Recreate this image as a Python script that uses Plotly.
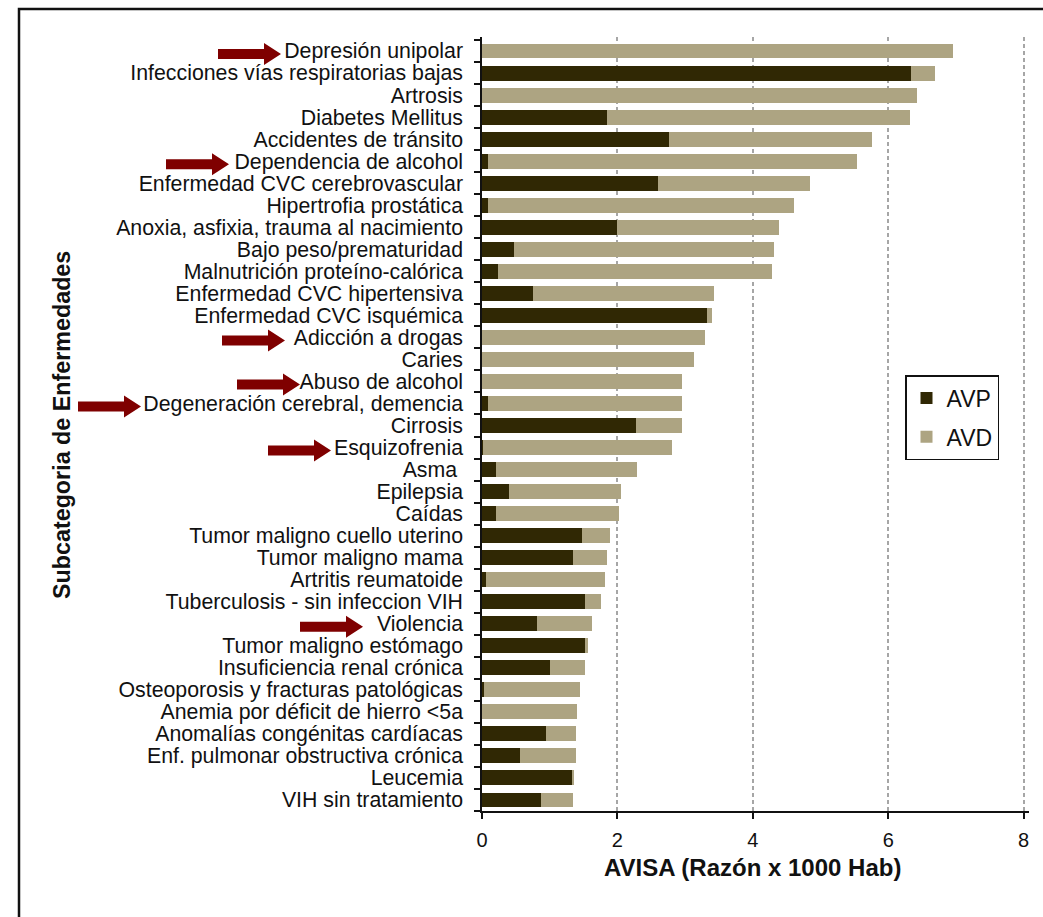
import plotly.graph_objects as go

# ---------------- data ----------------
categories = [
    "Depresión unipolar",
    "Infecciones vías respiratorias bajas",
    "Artrosis",
    "Diabetes Mellitus",
    "Accidentes de tránsito",
    "Dependencia de alcohol",
    "Enfermedad CVC cerebrovascular",
    "Hipertrofia prostática",
    "Anoxia, asfixia, trauma al nacimiento",
    "Bajo peso/prematuridad",
    "Malnutrición proteíno-calórica",
    "Enfermedad CVC hipertensiva",
    "Enfermedad CVC isquémica",
    "Adicción a drogas",
    "Caries",
    "Abuso de alcohol",
    "Degeneración cerebral, demencia",
    "Cirrosis",
    "Esquizofrenia",
    "Asma ",
    "Epilepsia",
    "Caídas",
    "Tumor maligno cuello uterino",
    "Tumor maligno mama",
    "Artritis reumatoide",
    "Tuberculosis - sin infeccion VIH",
    "Violencia",
    "Tumor maligno estómago",
    "Insuficiencia renal crónica",
    "Osteoporosis y fracturas patológicas",
    "Anemia por déficit de hierro <5a",
    "Anomalías congénitas cardíacas",
    "Enf. pulmonar obstructiva crónica",
    "Leucemia",
    "VIH sin tratamiento",
]

avp = [0.00, 6.33, 0.00, 1.85, 2.76, 0.09, 2.60, 0.09, 1.99, 0.47,
       0.24, 0.75, 3.32, 0.00, 0.00, 0.00, 0.09, 2.27, 0.01, 0.21,
       0.40, 0.20, 1.47, 1.34, 0.06, 1.52, 0.81, 1.52, 1.01, 0.03,
       0.00, 0.94, 0.56, 1.33, 0.87]

avd = [6.95, 0.36, 6.42, 4.47, 3.00, 5.45, 2.24, 4.52, 2.40, 3.84,
       4.05, 2.68, 0.07, 3.30, 3.13, 2.96, 2.87, 0.69, 2.80, 2.08,
       1.66, 1.82, 0.42, 0.50, 1.75, 0.24, 0.81, 0.05, 0.51, 1.42,
       1.40, 0.45, 0.83, 0.03, 0.47]

x_ticks = [0, 2, 4, 6, 8]

# categories marked with a red arrow in the original
highlighted = ["Depresión unipolar", "Dependencia de alcohol", "Adicción a drogas",
               "Abuso de alcohol", "Degeneración cerebral, demencia",
               "Esquizofrenia", "Violencia"]

x_title = "AVISA (Razón x 1000 Hab)"
y_title = "Subcategoria de Enfermedades"

# ---------------- style / layout ----------------
W, H = 1043, 917
ML, MR, MT, MB = 482, 14, 37, 106
PW, PH = W - ML - MR, H - MT - MB
FONT = "Liberation Sans, Arial, sans-serif"
C_AVP = "#302804"
C_AVD = "#ada482"
ARROW = "#7f0000"
INK = "#111111"

# arrow tip offsets (pixels left of the y axis)
arrow_tip = {
    "Depresión unipolar": -201,
    "Dependencia de alcohol": -253,
    "Adicción a drogas": -197,
    "Abuso de alcohol": -182,
    "Degeneración cerebral, demencia": -341,
    "Esquizofrenia": -151,
    "Violencia": -119,
}

fig = go.Figure()
fig.add_trace(go.Bar(
    y=categories, x=avp, name="AVP", orientation="h",
    marker=dict(color=C_AVP, line=dict(width=0)), legendgroup="a",
))
fig.add_trace(go.Bar(
    y=categories, x=avd, name="AVD", orientation="h",
    marker=dict(color=C_AVD, line=dict(width=0)), legendgroup="b",
))


def px2paper_x(p):
    return (p - ML) / PW


def px2paper_y(p):
    return 1 - (p - MT) / PH


shapes = []
for cat in highlighted:
    tx = arrow_tip[cat]
    L, hl, sh, hh, dy = 63, 17, 5, 11, -3
    path = (f"M{tx - L},{dy + sh} L{tx - hl},{dy + sh} L{tx - hl},{dy + hh} "
            f"L{tx},{dy} L{tx - hl},{dy - hh} L{tx - hl},{dy - sh} L{tx - L},{dy - sh} Z")
    shapes.append(dict(
        type="path", xref="paper", yref="y", xsizemode="pixel", ysizemode="pixel",
        xanchor=0, yanchor=cat, path=path, fillcolor=ARROW, line=dict(width=0),
    ))

# outer frame of the figure (only left and top edges visible)
shapes.append(dict(
    type="rect", xref="paper", yref="paper",
    x0=px2paper_x(19), x1=px2paper_x(1060), y0=px2paper_y(940), y1=px2paper_y(9),
    line=dict(color=INK, width=2.5), fillcolor="rgba(0,0,0,0)",
))

annotations = [
    dict(text=f"<b>{x_title}</b>", xref="paper", yref="paper",
         x=px2paper_x(752), y=px2paper_y(868), xanchor="center", yanchor="middle",
         showarrow=False, font=dict(size=24, family=FONT, color=INK)),
    dict(text=f"<b>{y_title}</b>", xref="paper", yref="paper",
         x=px2paper_x(62), y=px2paper_y(425), xanchor="center", yanchor="middle",
         textangle=-90, showarrow=False, font=dict(size=23.3, family=FONT, color=INK)),
]

fig.update_layout(
    width=W, height=H,
    margin=dict(l=ML, r=MR, t=MT, b=MB),
    paper_bgcolor="white", plot_bgcolor="white",
    barmode="stack", bargap=0.32,
    font=dict(family=FONT, color=INK),
    shapes=shapes,
    annotations=annotations,
    showlegend=True,
    legend=dict(
        x=px2paper_x(905), y=px2paper_y(375), xanchor="left", yanchor="top",
        bordercolor=INK, borderwidth=1.5, bgcolor="white",
        font=dict(size=23, family=FONT, color=INK),
        traceorder="grouped", tracegroupgap=6,
    ),
    xaxis=dict(
        range=[0, 8.08], tickmode="array", tickvals=x_ticks,
        ticktext=[str(v) for v in x_ticks],
        showgrid=True, gridcolor="#a6a6a6", gridwidth=1.5, griddash="4px,3px",
        showline=True, linecolor=INK, linewidth=1.5,
        ticks="outside", ticklen=6, tickwidth=1.5, tickcolor=INK,
        tickfont=dict(size=20, family=FONT, color=INK),
        ticklabelstandoff=4,
        zeroline=False,
    ),
    yaxis=dict(
        type="category", autorange="reversed",
        tickmode="array", tickvals=categories, ticktext=categories,
        showgrid=False, showline=True, linecolor=INK, linewidth=1.5,
        ticks="outside", tickson="boundaries", ticklen=6, tickwidth=1.5,
        tickcolor=INK,
        tickfont=dict(size=21.3, family=FONT, color=INK),
        ticklabelstandoff=13,
    ),
)

fig.write_html("out.html", config={"displayModeBar": False},
               post_script="document.body.style.margin='0';")
